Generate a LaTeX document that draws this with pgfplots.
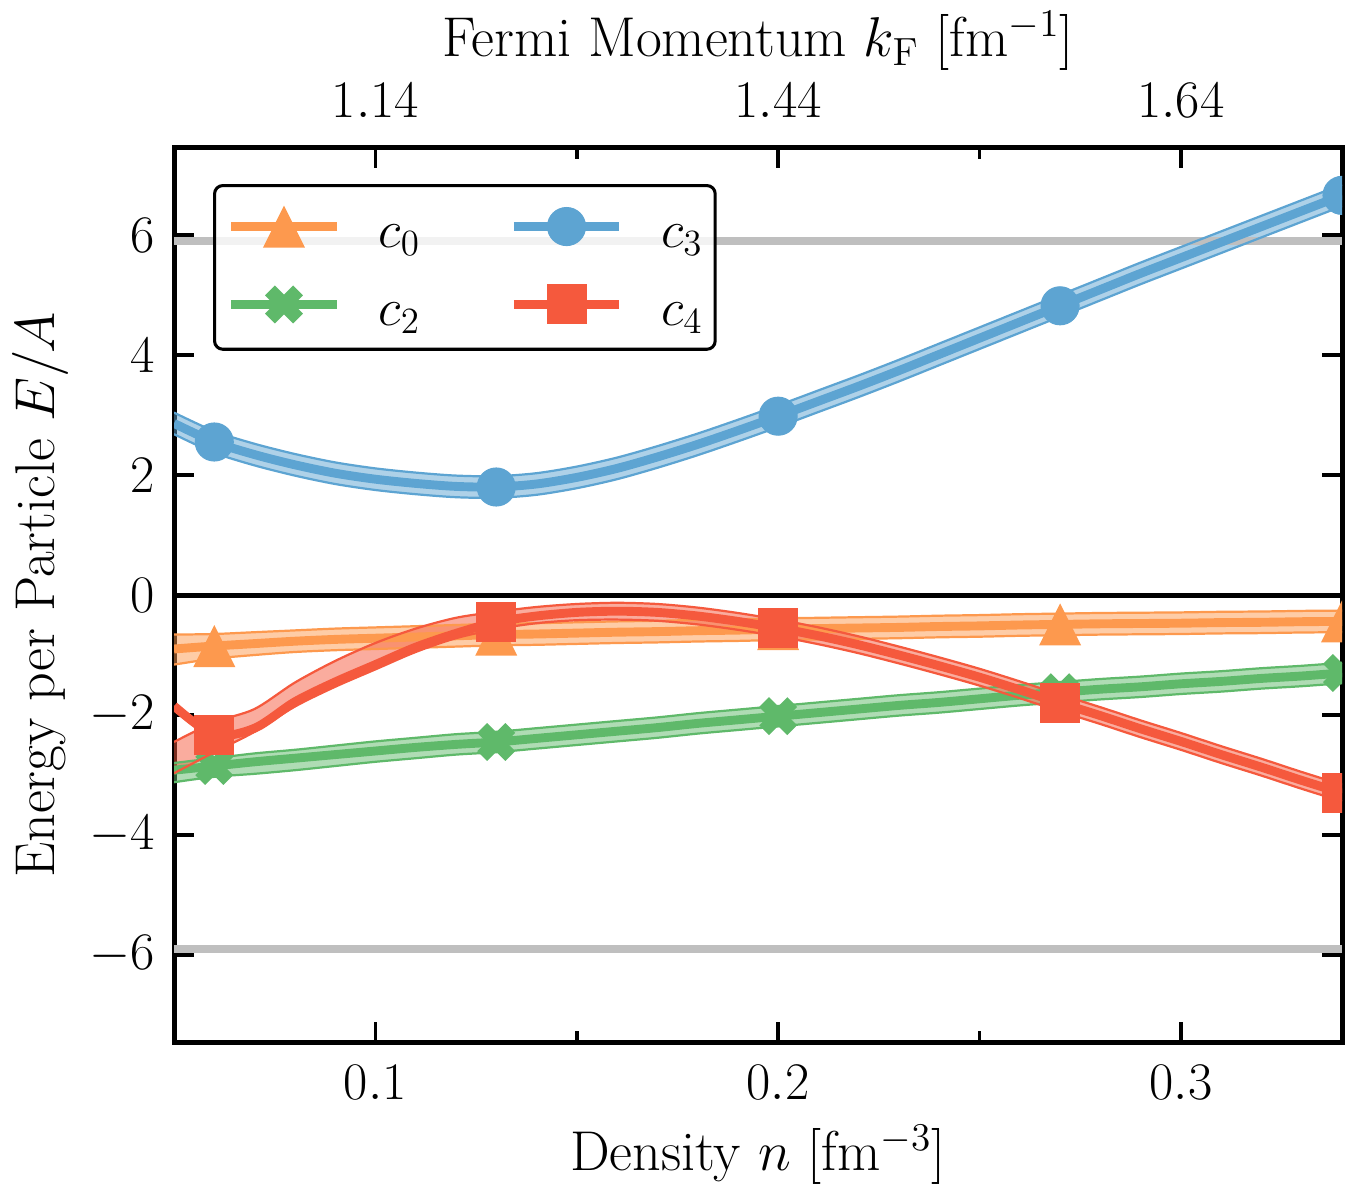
\RequirePackage{fix-cm}
\documentclass[border=0pt]{standalone}
\usepackage{pgfplots}
\usepackage{pgfplotstable}
\pgfplotsset{compat=1.18}
\usepgfplotslibrary{fillbetween}

\definecolor{cO}{RGB}{253,153,78}
\definecolor{cB}{RGB}{93,164,210}
\definecolor{cG}{RGB}{95,185,106}
\definecolor{cR}{RGB}{245,89,61}
\definecolor{cGray}{RGB}{191,191,191}

\pgfdeclareplotmark{mtri}{%
  \pgfpathmoveto{\pgfqpoint{0pt}{\pgfplotmarksize}}%
  \pgfpathlineto{\pgfqpoint{-\pgfplotmarksize}{-\pgfplotmarksize}}%
  \pgfpathlineto{\pgfqpoint{\pgfplotmarksize}{-\pgfplotmarksize}}%
  \pgfpathclose\pgfusepathqfill}
\pgfdeclareplotmark{mX}{%
  \pgftransformrotate{45}%
  \pgfpathmoveto{\pgfqpoint{0.35\pgfplotmarksize}{\pgfplotmarksize}}%
  \pgfpathlineto{\pgfqpoint{0.35\pgfplotmarksize}{0.35\pgfplotmarksize}}%
  \pgfpathlineto{\pgfqpoint{\pgfplotmarksize}{0.35\pgfplotmarksize}}%
  \pgfpathlineto{\pgfqpoint{\pgfplotmarksize}{-0.35\pgfplotmarksize}}%
  \pgfpathlineto{\pgfqpoint{0.35\pgfplotmarksize}{-0.35\pgfplotmarksize}}%
  \pgfpathlineto{\pgfqpoint{0.35\pgfplotmarksize}{-\pgfplotmarksize}}%
  \pgfpathlineto{\pgfqpoint{-0.35\pgfplotmarksize}{-\pgfplotmarksize}}%
  \pgfpathlineto{\pgfqpoint{-0.35\pgfplotmarksize}{-0.35\pgfplotmarksize}}%
  \pgfpathlineto{\pgfqpoint{-\pgfplotmarksize}{-0.35\pgfplotmarksize}}%
  \pgfpathlineto{\pgfqpoint{-\pgfplotmarksize}{0.35\pgfplotmarksize}}%
  \pgfpathlineto{\pgfqpoint{-0.35\pgfplotmarksize}{0.35\pgfplotmarksize}}%
  \pgfpathlineto{\pgfqpoint{-0.35\pgfplotmarksize}{\pgfplotmarksize}}%
  \pgfpathclose\pgfusepathqfill}

% c0 (orange)
\pgfplotstableread{
x y lo hi
0.05 -0.90 -1.16 -0.66
0.06 -0.85 -1.06 -0.65
0.07 -0.81 -1.00 -0.62
0.08 -0.77 -0.95 -0.59
0.09 -0.74 -0.92 -0.56
0.10 -0.72 -0.90 -0.54
0.11 -0.70 -0.88 -0.52
0.12 -0.68 -0.86 -0.50
0.13 -0.66 -0.84 -0.48
0.14 -0.65 -0.83 -0.47
0.15 -0.635 -0.815 -0.455
0.16 -0.62 -0.80 -0.44
0.17 -0.61 -0.79 -0.43
0.18 -0.595 -0.775 -0.415
0.19 -0.585 -0.765 -0.405
0.20 -0.57 -0.75 -0.39
0.21 -0.56 -0.74 -0.38
0.22 -0.55 -0.73 -0.37
0.23 -0.54 -0.72 -0.36
0.24 -0.525 -0.705 -0.345
0.25 -0.515 -0.695 -0.335
0.26 -0.50 -0.68 -0.32
0.27 -0.49 -0.67 -0.31
0.28 -0.48 -0.66 -0.30
0.29 -0.475 -0.655 -0.295
0.30 -0.47 -0.65 -0.29
0.31 -0.46 -0.64 -0.28
0.32 -0.455 -0.635 -0.275
0.33 -0.445 -0.625 -0.265
0.34 -0.44 -0.62 -0.26
}\tabO

% c3 (blue)
\pgfplotstableread{
x y lo hi
0.05 2.86 2.68 3.04
0.06 2.55 2.37 2.73
0.07 2.34 2.16 2.52
0.08 2.17 1.99 2.35
0.09 2.03 1.85 2.21
0.10 1.93 1.75 2.11
0.11 1.86 1.68 2.04
0.12 1.81 1.63 1.99
0.13 1.80 1.62 1.98
0.14 1.85 1.67 2.03
0.15 1.96 1.78 2.14
0.16 2.11 1.93 2.29
0.17 2.30 2.12 2.48
0.18 2.51 2.33 2.69
0.19 2.74 2.56 2.92
0.20 2.98 2.80 3.16
0.21 3.23 3.05 3.41
0.22 3.48 3.30 3.66
0.23 3.74 3.56 3.92
0.24 4.01 3.83 4.19
0.25 4.28 4.10 4.46
0.26 4.55 4.37 4.73
0.27 4.82 4.64 5.00
0.28 5.09 4.91 5.27
0.29 5.36 5.18 5.54
0.30 5.62 5.44 5.80
0.31 5.88 5.70 6.06
0.32 6.14 5.96 6.32
0.33 6.40 6.22 6.58
0.34 6.66 6.48 6.84
}\tabB

% c2 (green)
\pgfplotstableread{
x y lo hi
0.05 -2.92 -3.12 -2.80
0.06 -2.85 -3.03 -2.72
0.07 -2.78 -2.98 -2.64
0.08 -2.72 -2.92 -2.58
0.09 -2.66 -2.85 -2.51
0.10 -2.60 -2.78 -2.44
0.11 -2.54 -2.72 -2.38
0.12 -2.49 -2.66 -2.32
0.13 -2.45 -2.62 -2.28
0.14 -2.39 -2.56 -2.22
0.15 -2.33 -2.50 -2.16
0.16 -2.27 -2.44 -2.10
0.17 -2.21 -2.38 -2.04
0.18 -2.14 -2.31 -1.97
0.19 -2.08 -2.25 -1.91
0.20 -2.02 -2.19 -1.85
0.21 -1.96 -2.13 -1.79
0.22 -1.90 -2.07 -1.73
0.23 -1.84 -2.01 -1.67
0.24 -1.79 -1.96 -1.62
0.25 -1.73 -1.90 -1.56
0.26 -1.67 -1.84 -1.50
0.27 -1.62 -1.79 -1.45
0.28 -1.57 -1.74 -1.40
0.29 -1.53 -1.70 -1.36
0.30 -1.48 -1.65 -1.31
0.31 -1.44 -1.61 -1.27
0.32 -1.39 -1.56 -1.22
0.33 -1.35 -1.52 -1.18
0.34 -1.30 -1.47 -1.13
}\tabG

% c4 (red)
\pgfplotstableread{
x y lo hi
0.05 -1.85 -2.97 -2.45
0.06 -2.33 -2.62 -2.12
0.07 -2.22 -2.28 -1.90
0.08 -1.78 -1.86 -1.46
0.09 -1.45 -1.53 -1.10
0.10 -1.16 -1.24 -0.80
0.11 -0.87 -0.95 -0.56
0.12 -0.64 -0.72 -0.38
0.13 -0.45 -0.57 -0.28
0.14 -0.35 -0.47 -0.20
0.15 -0.29 -0.42 -0.15
0.16 -0.27 -0.41 -0.13
0.17 -0.29 -0.43 -0.15
0.18 -0.35 -0.49 -0.21
0.19 -0.44 -0.58 -0.30
0.20 -0.55 -0.69 -0.41
0.21 -0.68 -0.82 -0.54
0.22 -0.83 -0.97 -0.69
0.23 -1.00 -1.14 -0.86
0.24 -1.18 -1.32 -1.04
0.25 -1.37 -1.51 -1.23
0.26 -1.58 -1.72 -1.44
0.27 -1.80 -1.94 -1.66
0.28 -2.01 -2.15 -1.87
0.29 -2.23 -2.37 -2.09
0.30 -2.44 -2.58 -2.30
0.31 -2.66 -2.80 -2.52
0.32 -2.87 -3.01 -2.73
0.33 -3.09 -3.23 -2.95
0.34 -3.30 -3.44 -3.16
}\tabR

\newcommand{\tickfont}{\fontsize{19}{23}\selectfont}
\newcommand{\labfont}{\fontsize{20.2}{24}\selectfont}

\pgfplotsset{
  band edge/.style={#1, line width=0.8pt, smooth, forget plot},
  band fill/.style={fill=#1, fill opacity=0.5, draw=none, forget plot},
  main line/.style={#1, line width=3.2pt, smooth, mark repeat=7, mark phase=2,
    mark options={solid, line width=0.4pt, draw=#1, fill=#1}},
}

\begin{document}
\begin{tikzpicture}
\begin{axis}[
  scale only axis, width=420.48pt, height=321.84pt,
  xmin=0.05, xmax=0.34, ymin=-7.45, ymax=7.45,
  axis line style={line width=1.8pt},
  tick align=inside, xtick pos=both, ytick pos=both,
  xtick={0.1,0.2,0.3}, minor xtick={0.15,0.25},
  ytick={-6,-4,-2,0,2,4,6}, minor y tick num=0,
  major tick length=7.2pt, minor tick length=3.9pt,
  tick style={black, line width=1.3pt},
  ticklabel style={font=\tickfont},
  xticklabel style={yshift=-4.8pt},
  yticklabel style={xshift=-3.4pt},
  label style={font=\labfont},
  xlabel={Density $n$ [fm$^{-3}$]},
  ylabel={Energy per Particle $E/A$},
  xlabel style={at={(axis description cs:0.5,0)}, anchor=base, yshift=-46.4pt},
  ylabel style={at={(axis description cs:0,0.5)}, anchor=base, yshift=43pt},
  clip marker paths=true,
  legend columns=2,
  legend cell align=left,
  legend style={
    at={(0.0334,0.9597)}, anchor=north west,
    draw=black, line width=1.1pt, rounded corners=3pt,
    fill=white, fill opacity=0.8, draw opacity=1, text opacity=1,
    inner xsep=4.4pt, inner ysep=7.2pt,
    font=\tickfont,
    column sep=13.5pt,
    /tikz/every even column/.append style={column sep=32pt},
    row sep=12.1pt,
    nodes={inner sep=0pt},
  },
  legend image code/.code={
    \draw[#1, sharp corners, line width=3.2pt, fill opacity=1, draw opacity=1,
      mark repeat=2, mark phase=2]
      plot coordinates {(0pt,4.1pt) (19pt,4.1pt) (38pt,4.1pt)};
  },
]
% reference lines
\addplot[cGray, line width=2.9pt, forget plot] coordinates {(0.05,5.9) (0.34,5.9)};
\addplot[cGray, line width=2.9pt, forget plot] coordinates {(0.05,-5.9) (0.34,-5.9)};
\addplot[black, line width=1.8pt, forget plot] coordinates {(0.05,0) (0.34,0)};

% c0
\addplot[name path=olo, draw=none, smooth, forget plot] table[x=x,y=lo]{\tabO};
\addplot[name path=ohi, draw=none, smooth, forget plot] table[x=x,y=hi]{\tabO};
\addplot[band fill=cO] fill between[of=olo and ohi];
\addplot[band edge=cO] table[x=x,y=lo]{\tabO};
\addplot[band edge=cO] table[x=x,y=hi]{\tabO};
\addplot[main line=cO, mark=mtri, mark size=7.56pt] table[x=x,y=y]{\tabO};
\addlegendentry{$c_0$}

% c3
\addplot[name path=blo, draw=none, smooth, forget plot] table[x=x,y=lo]{\tabB};
\addplot[name path=bhi, draw=none, smooth, forget plot] table[x=x,y=hi]{\tabB};
\addplot[band fill=cB] fill between[of=blo and bhi];
\addplot[band edge=cB] table[x=x,y=lo]{\tabB};
\addplot[band edge=cB] table[x=x,y=hi]{\tabB};
\addplot[main line=cB, mark=*, mark size=6.84pt] table[x=x,y=y]{\tabB};
\addlegendentry{$c_3$}

% c2
\addplot[name path=glo, draw=none, smooth, forget plot] table[x=x,y=lo]{\tabG};
\addplot[name path=ghi, draw=none, smooth, forget plot] table[x=x,y=hi]{\tabG};
\addplot[band fill=cG] fill between[of=glo and ghi];
\addplot[band edge=cG] table[x=x,y=lo]{\tabG};
\addplot[band edge=cG] table[x=x,y=hi]{\tabG};
\addplot[main line=cG, mark=mX, mark size=7.16pt] table[x=x,y=y]{\tabG};
\addlegendentry{$c_2$}

% c4
\addplot[name path=rlo, draw=none, smooth, forget plot] table[x=x,y=lo]{\tabR};
\addplot[name path=rhi, draw=none, smooth, forget plot] table[x=x,y=hi]{\tabR};
\addplot[band fill=cR] fill between[of=rlo and rhi];
\addplot[band edge=cR] table[x=x,y=lo]{\tabR};
\addplot[band edge=cR] table[x=x,y=hi]{\tabR};
\addplot[main line=cR, mark=square*, mark size=7pt] table[x=x,y=y]{\tabR};
\addlegendentry{$c_4$}
\end{axis}

\begin{axis}[
  scale only axis, width=420.48pt, height=321.84pt,
  xmin=0.05, xmax=0.34, ymin=-7.45, ymax=7.45,
  axis x line*=top, hide y axis,
  axis line style={draw=none},
  xtick={0.1,0.2,0.3}, xticklabels={$1.14$,$1.44$,$1.64$},
  xticklabel pos=upper,
  major tick length=0pt, minor tick num=0,
  tick style={draw=none},
  ticklabel style={font=\tickfont},
  xticklabel style={yshift=7.4pt},
  xlabel={Fermi Momentum $k_{\mathrm{F}}$ [fm$^{-1}$]},
  xlabel style={font=\labfont, at={(axis description cs:0.5,1)}, anchor=base, yshift=32.8pt},
]
\end{axis}

\pgfresetboundingbox
\path ([shift={(-62.64pt,-56.88pt)}]current axis.south west) rectangle ([shift={(6.48pt,53.28pt)}]current axis.north east);
\end{tikzpicture}
\end{document}
